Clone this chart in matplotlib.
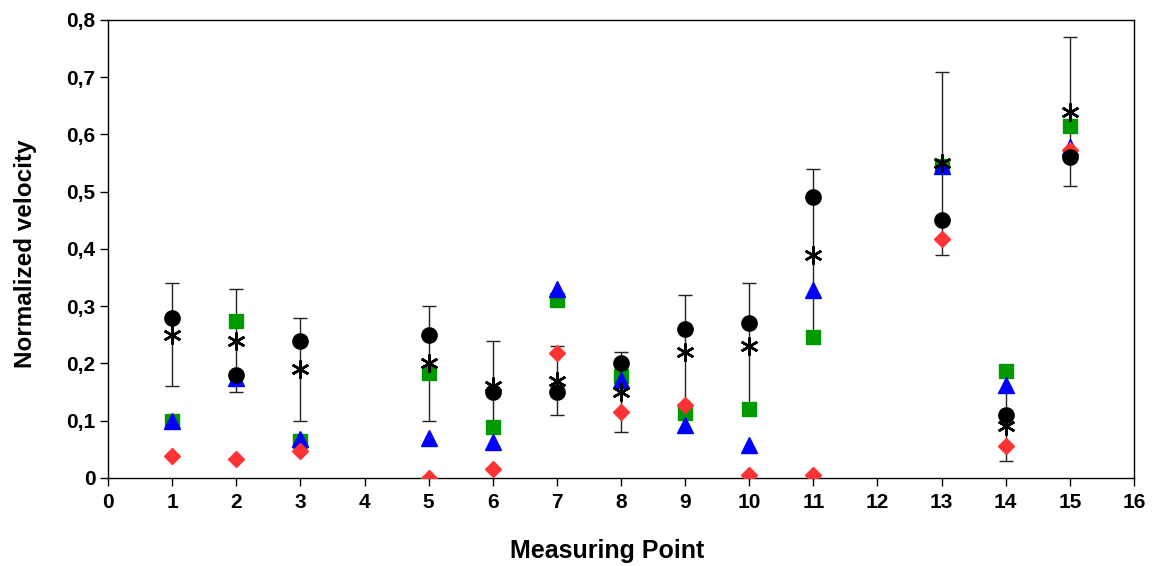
import matplotlib
matplotlib.use("Agg")
import matplotlib.pyplot as plt
import numpy as np

plt.rcParams['font.family'] = ['Liberation Sans', 'DejaVu Sans']

points = [1, 2, 3, 5, 6, 7, 8, 9, 10, 11, 13, 14, 15]
mean_vals = [0.25, 0.24, 0.19, 0.20, 0.16, 0.17, 0.15, 0.22, 0.23, 0.39, 0.55, 0.09, 0.64]
mean_err = [0.09, 0.09, 0.09, 0.10, 0.08, 0.06, 0.07, 0.10, 0.11, 0.15, 0.16, 0.06, 0.13]
circle_vals = [0.28, 0.18, 0.24, 0.25, 0.15, 0.15, 0.20, 0.26, 0.27, 0.49, 0.45, 0.11, 0.56]
square_vals = [0.10, 0.275, 0.065, 0.183, 0.089, 0.311, 0.179, 0.113, 0.12, 0.246, 0.545, 0.187, 0.615]
triangle_vals = [0.10, 0.175, 0.068, 0.07, 0.063, 0.33, 0.171, 0.092, 0.058, 0.328, 0.545, 0.162, 0.579]
diamond_vals = [0.038, 0.033, 0.048, 0.0, 0.015, 0.218, 0.115, 0.128, 0.005, 0.005, 0.417, 0.055, 0.573]

x_ticks = list(range(0, 17))
y_ticks = [0, 0.1, 0.2, 0.3, 0.4, 0.5, 0.6, 0.7, 0.8]
y_tick_labels = ["0", "0,1", "0,2", "0,3", "0,4", "0,5", "0,6", "0,7", "0,8"]

fig = plt.figure(figsize=(11.53, 5.66), dpi=100)
ax = fig.add_axes([0.0937, 0.1555, 0.8898, 0.8092])

ax.errorbar(points, mean_vals, yerr=mean_err, fmt='none', ecolor='#222222',
            elinewidth=1.0, capsize=5, capthick=1.0, zorder=1)
ax.plot(points, square_vals, linestyle='none', marker='s', markersize=10.5,
        color='#009900', zorder=2)
ax.plot(points, triangle_vals, linestyle='none', marker='^', markersize=11,
        color='#0000ff', zorder=3)
ax.plot(points, diamond_vals, linestyle='none', marker='D', markersize=8,
        color='#ff3333', zorder=4)
ax.plot(points, circle_vals, linestyle='none', marker='o', markersize=11,
        color='black', zorder=5)
ax.plot(points, mean_vals, linestyle='none', marker=(6, 2, 0), markersize=13,
        markeredgewidth=1.8, color='black', zorder=6)

ax.set_xlim(0, 16)
ax.set_ylim(0, 0.8)
ax.set_xticks(x_ticks)
ax.set_xticklabels([str(t) for t in x_ticks], fontsize=15, fontweight='bold')
ax.set_yticks(y_ticks)
ax.set_yticklabels(y_tick_labels, fontsize=15, fontweight='bold')
ax.tick_params(axis='both', direction='out', length=6, width=1.0, colors='black')
ax.tick_params(axis='x', pad=5)
ax.tick_params(axis='y', pad=3)
for s in ax.spines.values():
    s.set_linewidth(1.0)
    s.set_color('black')

ax.set_xlabel("Measuring Point", fontsize=18, fontweight='bold', labelpad=19)
ax.set_ylabel("Normalized velocity", fontsize=17.5, fontweight='bold', labelpad=21)
ax.xaxis.label.set_x(0.486)
ax.yaxis.label.set_y(0.489)

fig.savefig("out.png", dpi=100)
